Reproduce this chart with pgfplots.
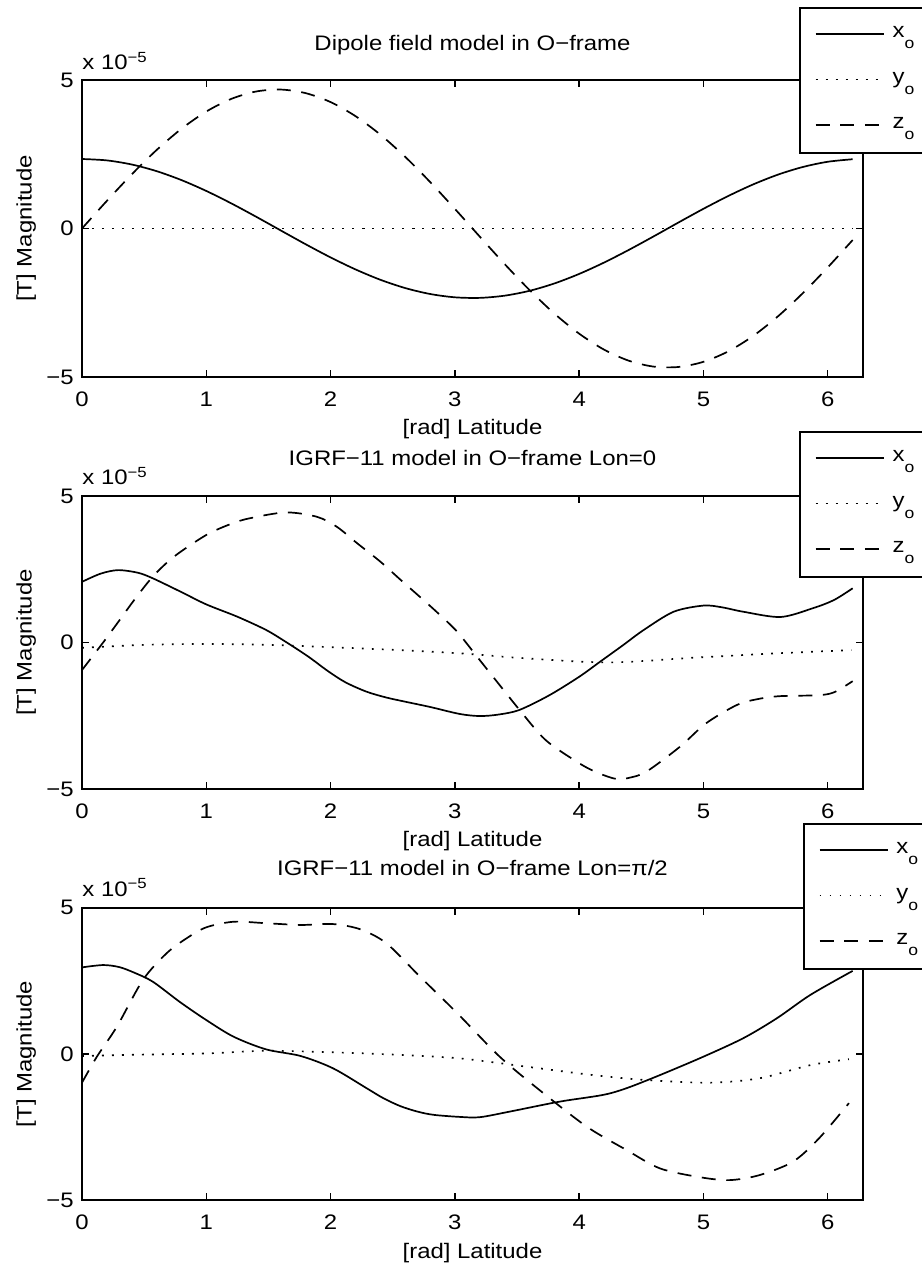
\documentclass[border=0pt]{standalone}
\usepackage{fontspec}
\setmainfont{Liberation Sans}
\usepackage{graphicx}
\usepackage{pgfplots}
\pgfplotsset{compat=1.18}

% text in the reference is wider than it is tall
\newcommand{\sx}[1]{\scalebox{1.14}[1]{#1}}
\newcommand{\sub}[1]{\sx{#1\raisebox{-5.5pt}{\fontsize{7.7}{8}\selectfont o}}\hspace*{12pt}}

\tikzset{x10/.style={anchor=base west, inner sep=0pt}}
\pgfplotsset{
  magplot/.style={
    scale only axis, width=390.5pt,
    xmin=0, xmax=6.2832, ymin=-5, ymax=5,
    xtick={0,1,2,3,4,5,6}, xticklabels={\sx{0},\sx{1},\sx{2},\sx{3},\sx{4},\sx{5},\sx{6}},
    ytick={-5,0,5}, yticklabels={\sx{−5},\sx{0},\sx{5}},
    tick align=inside, major tick length=3.5pt,
    axis line style={line width=0.9pt},
    every tick/.style={black, line width=0.7pt},
    xticklabel style={anchor=base, yshift=-14.8pt, inner sep=0pt},
    yticklabel style={anchor=east, inner sep=0pt, xshift=-4pt},
    xlabel={\sx{[rad] Latitude}}, ylabel={\sx{[T] Magnitude}},
    xlabel style={at={(axis description cs:0.5,0)}, anchor=base, yshift=-29pt},
    ylabel style={at={(axis description cs:-0.0645,0.5)}, anchor=base},
    clip=false,
    legend style={fill=white, draw=black, line width=0.9pt,
      inner xsep=7.5pt, inner ysep=2pt, column sep=4pt, row sep=0pt,
      cells={anchor=base west},
      nodes={inner sep=0pt, text height=12.8pt, text depth=10pt}},
    legend image code/.code={\draw[#1] (0pt,1.8pt) -- (34pt,1.8pt);},
    every axis plot/.append style={line width=0.85pt, black, smooth},
  },
  xo/.style={solid},
  yo/.style={dash pattern=on 0.9pt off 4.1pt},
  zo/.style={dash pattern=on 7pt off 5.3pt},
}

\begin{document}
\fontsize{10.5}{12}\selectfont
\begin{tikzpicture}
\useasboundingbox (0,0) rectangle (461pt,633pt);

% Dipole
\begin{axis}[magplot, at={(41pt,444.5pt)}, anchor=south west, height=148.5pt,
  title={\sx{Dipole field model in O−frame}},
  title style={at={(axis description cs:0.5,1)}, anchor=base, yshift=8.7pt},
  legend style={at={(axis description cs:0.918,1.246)}, anchor=north west}]
\addplot[xo] coordinates {(0,2.34) (0.2,2.293) (0.4,2.155) (0.6,1.931) (0.8,1.630) (1.0,1.264) (1.2,0.848) (1.4,0.398) (1.6,-0.068) (1.8,-0.532) (2.0,-0.974) (2.2,-1.377) (2.4,-1.726) (2.6,-2.005) (2.8,-2.205) (3.0,-2.317) (3.2,-2.336) (3.4,-2.262) (3.6,-2.099) (3.8,-1.851) (4.0,-1.529) (4.2,-1.147) (4.4,-0.719) (4.6,-0.263) (4.8,0.205) (5.0,0.664) (5.2,1.096) (5.4,1.485) (5.6,1.815) (5.8,2.072) (6.0,2.247) (6.2,2.332)};
\addlegendentry{\sub{x}}
\addplot[yo] coordinates {(0,0) (1,0) (2,0) (3,0) (4,0) (5,0) (6,0) (6.2,0)};
\addlegendentry{\sub{y}}
\addplot[zo] coordinates {(0,0) (0.2,0.930) (0.4,1.822) (0.6,2.642) (0.8,3.357) (1.0,3.938) (1.2,4.362) (1.4,4.612) (1.6,4.678) (1.8,4.557) (2.0,4.256) (2.2,3.784) (2.4,3.161) (2.6,2.413) (2.8,1.568) (3.0,0.660) (3.2,-0.273) (3.4,-1.196) (3.6,-2.071) (3.8,-2.864) (4.0,-3.542) (4.2,-4.079) (4.4,-4.453) (4.6,-4.651) (4.8,-4.662) (5.0,-4.488) (5.2,-4.135) (5.4,-3.617) (5.6,-2.954) (5.8,-2.174) (6.0,-1.308) (6.2,-0.389)};
\addlegendentry{\sub{z}}
\node[x10, yshift=5pt] at (axis description cs:0,1) {\sx{x 10\textsuperscript{−5}}};
\end{axis}

% IGRF Lon=0
\begin{axis}[magplot, at={(41pt,238.5pt)}, anchor=south west, height=146.5pt,
  title={\sx{IGRF−11 model in O−frame Lon=0}},
  title style={at={(axis description cs:0.5,1)}, anchor=base, yshift=9.3pt},
  legend style={at={(axis description cs:0.918,1.222)}, anchor=north west}]
\addplot[xo] coordinates {(0,2.07) (0.15,2.35) (0.29,2.47) (0.45,2.38) (0.57,2.19) (0.8,1.72) (1.0,1.30) (1.25,0.88) (1.48,0.43) (1.64,0.02) (1.82,-0.48) (1.98,-0.98) (2.12,-1.36) (2.29,-1.68) (2.45,-1.88) (2.6,-2.02) (2.8,-2.20) (3.04,-2.44) (3.2,-2.51) (3.35,-2.46) (3.52,-2.30) (3.76,-1.80) (4.0,-1.17) (4.17,-0.65) (4.35,-0.10) (4.52,0.43) (4.76,1.05) (5.0,1.26) (5.15,1.20) (5.32,1.05) (5.62,0.87) (5.88,1.17) (6.05,1.45) (6.2,1.85)};
\addlegendentry{\sub{x}}
\addplot[yo] coordinates {(0,-0.18) (0.5,-0.08) (1.0,-0.05) (1.5,-0.08) (2.0,-0.16) (2.5,-0.25) (3.04,-0.37) (3.57,-0.54) (4.24,-0.68) (4.92,-0.52) (5.59,-0.37) (6.19,-0.26)};
\addlegendentry{\sub{y}}
\addplot[zo] coordinates {(0,-0.94) (0.17,0) (0.3,0.75) (0.42,1.45) (0.57,2.25) (0.74,2.93) (1.0,3.67) (1.2,4.05) (1.35,4.24) (1.64,4.44) (1.89,4.29) (2.05,3.95) (2.21,3.40) (2.4,2.76) (2.56,2.15) (2.8,1.25) (2.96,0.62) (3.04,0.26) (3.2,-0.6) (3.35,-1.4) (3.52,-2.30) (3.73,-3.33) (4.0,-4.12) (4.15,-4.45) (4.3,-4.66) (4.4,-4.62) (4.54,-4.41) (4.81,-3.56) (5.02,-2.76) (5.27,-2.13) (5.45,-1.92) (5.62,-1.83) (5.92,-1.80) (6.05,-1.7) (6.2,-1.32)};
\addlegendentry{\sub{z}}
\node[x10, yshift=5.5pt] at (axis description cs:0,1) {\sx{x 10\textsuperscript{−5}}};
\end{axis}

% IGRF Lon=pi/2
\begin{axis}[magplot, at={(41pt,32.85pt)}, anchor=south west, height=146.3pt,
  title={\sx{IGRF−11 model in O−frame Lon=π/2}},
  title style={at={(axis description cs:0.5,1)}, anchor=base, yshift=10.3pt},
  legend style={at={(axis description cs:0.923,1.289)}, anchor=north west}]
\addplot[xo] coordinates {(0,2.96) (0.17,3.04) (0.3,2.97) (0.42,2.78) (0.57,2.47) (0.79,1.77) (1.0,1.16) (1.22,0.59) (1.48,0.16) (1.76,-0.07) (2.02,-0.49) (2.29,-1.17) (2.42,-1.50) (2.56,-1.78) (2.7,-1.97) (2.83,-2.08) (3.04,-2.15) (3.2,-2.16) (3.44,-1.97) (3.84,-1.63) (4.19,-1.40) (4.38,-1.17) (4.65,-0.72) (5.0,-0.09) (5.32,0.54) (5.59,1.22) (5.86,2.02) (6.2,2.84)};
\addlegendentry{\sub{x}}
\addplot[yo] coordinates {(0,-0.07) (0.5,-0.02) (1.0,0.02) (1.48,0.11) (2.0,0.06) (2.5,-0.02) (3.04,-0.15) (3.57,-0.43) (4.11,-0.72) (4.54,-0.89) (5.05,-0.98) (5.45,-0.83) (5.86,-0.38) (6.17,-0.18)};
\addlegendentry{\sub{y}}
\addplot[zo] coordinates {(0,-0.98) (0.12,-0.09) (0.28,0.93) (0.49,2.53) (0.68,3.44) (0.84,3.95) (1.0,4.33) (1.22,4.52) (1.48,4.47) (1.76,4.41) (2.02,4.44) (2.24,4.26) (2.45,3.78) (2.72,2.64) (3.02,1.39) (3.36,-0.09) (3.68,-1.23) (4.06,-2.48) (4.38,-3.28) (4.65,-3.91) (4.97,-4.21) (5.21,-4.31) (5.45,-4.14) (5.72,-3.68) (5.93,-2.88) (6.17,-1.68)};
\addlegendentry{\sub{z}}
\node[x10, yshift=5.8pt] at (axis description cs:0,1) {\sx{x 10\textsuperscript{−5}}};
\end{axis}
\end{tikzpicture}
\end{document}
